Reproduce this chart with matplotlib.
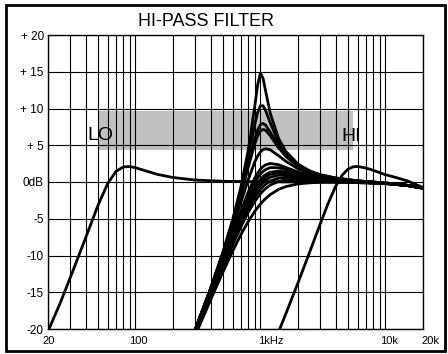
import matplotlib.pyplot as plt
from matplotlib.patches import Rectangle
from matplotlib.ticker import FixedLocator
from matplotlib.transforms import ScaledTranslation

plt.rcParams['font.family'] = ['Liberation Sans', 'DejaVu Sans']

# --- data ---
mid_freq = [300, 400, 500, 600, 700, 800, 900, 950, 1000, 1050, 1100, 1200,
            1400, 1600, 2000, 2500, 3000, 4000, 6000, 10000, 15000, 20000]

mid_q55 = [-20.11, -14.44, -9.61, -5.12, -0.61, 4.34, 10.19, 13.16, 14.81, 14.13, 12.41, 9.34,
           5.90, 4.15, 2.44, 1.48, 1.00, 0.55, 0.16, -0.13, -0.45, -0.82]
mid_q33 = [-20.14, -14.49, -9.72, -5.33, -1.04, 3.37, 7.74, 9.45, 10.37, 10.37, 9.75, 8.04,
           5.42, 3.90, 2.32, 1.43, 0.97, 0.53, 0.15, -0.14, -0.45, -0.82]
mid_q245 = [-20.17, -14.57, -9.85, -5.59, -1.53, 2.39, 5.84, 7.07, 7.78, 7.97, 7.75, 6.80,
            4.88, 3.60, 2.19, 1.35, 0.92, 0.51, 0.14, -0.14, -0.46, -0.82]
mid_q222 = [-20.19, -14.60, -9.92, -5.71, -1.75, 1.98, 5.15, 6.26, 6.93, 7.15, 7.04, 6.30,
            4.64, 3.46, 2.12, 1.32, 0.90, 0.50, 0.14, -0.14, -0.46, -0.82]
mid_q16 = [-20.28, -14.77, -10.24, -6.28, -2.74, 0.33, 2.70, 3.52, 4.08, 4.40, 4.52, 4.38,
           3.57, 2.81, 1.80, 1.15, 0.79, 0.44, 0.12, -0.15, -0.46, -0.83]
mid_q122 = [-20.40, -15.02, -10.68, -7.01, -3.90, -1.36, 0.53, 1.21, 1.73, 2.09, 2.33, 2.52,
            2.35, 1.98, 1.36, 0.90, 0.63, 0.36, 0.08, -0.16, -0.46, -0.83]
mid_q113 = [-20.45, -15.11, -10.84, -7.27, -4.28, -1.88, -0.09, 0.56, 1.06, 1.43, 1.69, 1.96,
            1.94, 1.69, 1.20, 0.80, 0.57, 0.32, 0.07, -0.17, -0.47, -0.83]
mid_q104 = [-20.51, -15.23, -11.04, -7.58, -4.73, -2.46, -0.78, -0.15, 0.34, 0.72, 1.00, 1.33,
            1.48, 1.35, 1.00, 0.69, 0.49, 0.28, 0.05, -0.17, -0.47, -0.83]
mid_q100 = [-20.54, -15.29, -11.14, -7.74, -4.95, -2.74, -1.10, -0.49, 0.00, 0.38, 0.67, 1.04,
            1.25, 1.18, 0.90, 0.63, 0.45, 0.26, 0.04, -0.18, -0.47, -0.83]
mid_q095 = [-20.59, -15.38, -11.28, -7.95, -5.24, -3.11, -1.53, -0.93, -0.45, -0.06, 0.24, 0.64,
            0.94, 0.95, 0.76, 0.54, 0.39, 0.23, 0.02, -0.18, -0.47, -0.83]
mid_q089 = [-20.65, -15.50, -11.48, -8.24, -5.63, -3.60, -2.08, -1.49, -1.01, -0.62, -0.31, 0.13,
            0.53, 0.63, 0.56, 0.42, 0.31, 0.19, 0.01, -0.19, -0.48, -0.83]
mid_q083 = [-20.73, -15.64, -11.70, -8.57, -6.07, -4.12, -2.66, -2.10, -1.62, -1.22, -0.90, -0.42,
            0.09, 0.28, 0.34, 0.28, 0.22, 0.13, -0.02, -0.20, -0.48, -0.83]
mid_q071 = [-20.95, -16.03, -12.30, -9.40, -7.13, -5.37, -4.02, -3.48, -3.01, -2.61, -2.26, -1.71,
            -1.00, -0.62, -0.26, -0.11, -0.05, -0.02, -0.09, -0.22, -0.48, -0.83]

mid_curves = [mid_q55, mid_q33, mid_q245, mid_q222, mid_q16, mid_q122, mid_q113,
              mid_q104, mid_q100, mid_q095, mid_q089, mid_q083, mid_q071]

lo_freq = [20, 25, 30, 40, 50, 60, 70, 80, 90, 100, 120, 150, 200, 300, 500,
           1000, 3000, 6000, 10000, 15000, 20000]
lo_db = [-20.3, -16.5, -13.1, -7.6, -3.26, -0.22, 1.45, 2.05, 2.11, 1.95, 1.53, 1.04, 0.61,
         0.27, 0.10, 0.02, 0.0, -0.08, -0.22, -0.48, -0.85]

hi_freq = [1400, 1600, 2000, 2500, 3000, 3500, 4000, 4500, 5000, 5500, 6000, 7000, 8000,
           10000, 12500, 15000, 20000]
hi_db = [-20.37, -17.91, -13.71, -9.38, -5.78, -2.83, -0.59, 0.91, 1.73, 2.06, 2.12, 1.90,
         1.59, 1.0, 0.55, 0.15, -0.75]

band_freq = (50, 5550)   # grey range box
band_db = (4.35, 9.7)

x_ticks = [20, 100, 1000, 10000, 20000]
x_labels = ['20', '100', '1kHz', '10k', '20k']
x_grid = [30, 40, 50, 60, 70, 80, 90, 200, 300, 400, 500, 600, 700, 800, 900,
          2000, 3000, 4000, 5000, 6000, 7000, 8000, 9000]
y_ticks = [-20, -15, -10, -5, 0, 5, 10, 15, 20]
y_labels = ['-20', '-15', '-10', '-5', '0dB', '+ 5', '+ 10', '+ 15', '+ 20']

# --- figure ---
fig = plt.figure(figsize=(4.48, 3.54), dpi=100)
ax = fig.add_axes([48/448, 1 - 329/354, 375/448, 294/354])
ax.set_xscale('log')
ax.set_xlim(20, 20000)
ax.set_ylim(-20, 20)

ax.set_xticks(x_ticks)
ax.set_xticklabels(x_labels)
ax.xaxis.set_minor_locator(FixedLocator(x_grid))
ax.set_yticks(y_ticks)
ax.set_yticklabels(y_labels)
ax.tick_params(which='both', length=0, labelsize=8)
ax.tick_params(axis='y', pad=3, labelsize=8.5)
ax.tick_params(axis='x', pad=5)
ax.set_axisbelow(True)
ax.grid(True, which='both', color='black', lw=0.8)
for s in ax.spines.values():
    s.set_linewidth(1.0)

# nudge x labels to where they sit on the original
shifts = [1, 3, 10, 3.5, 7]
for lab, dx in zip(ax.get_xticklabels(), shifts):
    lab.set_transform(lab.get_transform() + ScaledTranslation(dx/100, 0, fig.dpi_scale_trans))

ax.add_patch(Rectangle((band_freq[0], band_db[0]), band_freq[1] - band_freq[0],
                       band_db[1] - band_db[0], facecolor='#c0c0c0', edgecolor='none', zorder=0.3))

kw = dict(color='black', lw=2.0, solid_joinstyle='round', solid_capstyle='round', zorder=3)
ax.plot(lo_freq, lo_db, **kw)
ax.plot(hi_freq, hi_db, **kw)
for c in mid_curves:
    ax.plot(mid_freq, c, **kw)

ax.text(41.6, 5.7, 'LO', fontsize=14, ha='left', va='baseline', zorder=4)
ax.text(4470, 5.6, 'HI', fontsize=14, ha='left', va='baseline', zorder=4)

fig.text(205.5/448, 1 - 26/354, 'HI-PASS FILTER', fontsize=13, ha='center', va='baseline')

fig.patches.append(Rectangle((6/448, 1 - 351/354), 439/448, 346/354, transform=fig.transFigure,
                             fill=False, lw=2.0, ec='black'))

fig.savefig('out.png', dpi=100)
